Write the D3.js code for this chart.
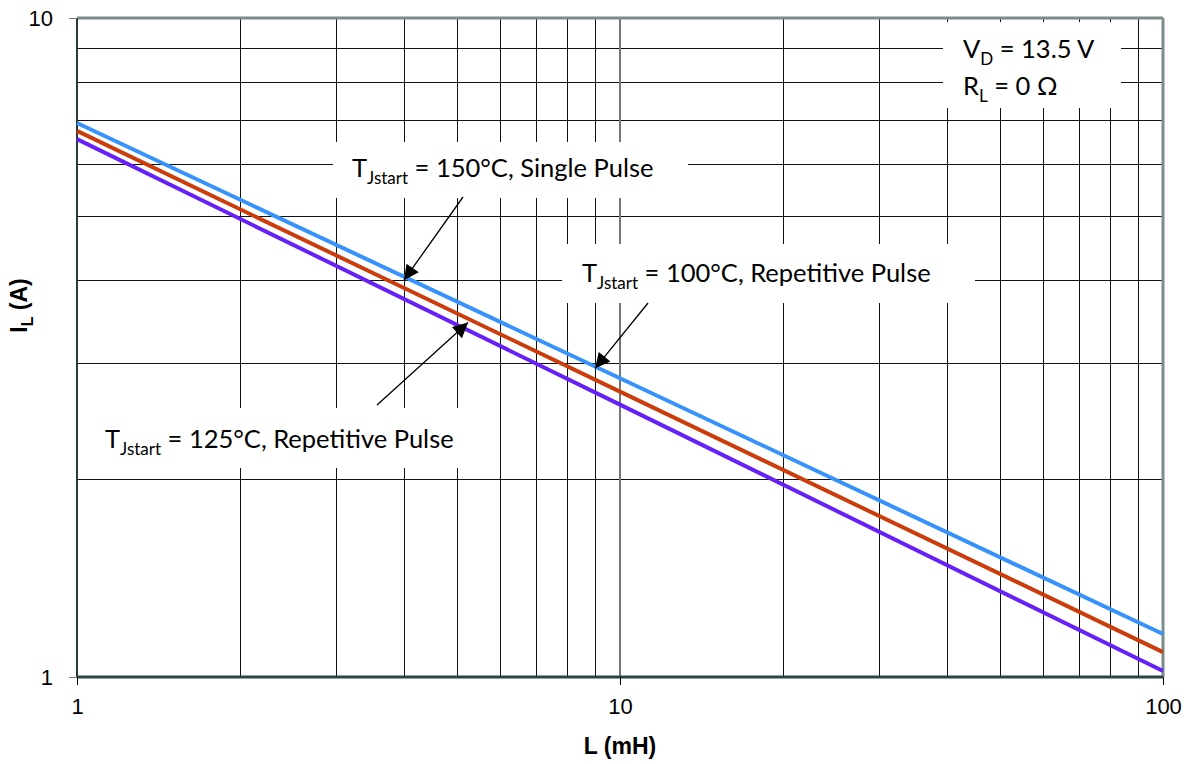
<!DOCTYPE html>
<html>
<head>
<meta charset="utf-8">
<script src="https://cdn.jsdelivr.net/npm/d3@7"></script>
<style>
  body { margin: 0; background: #fff; }
  .note { font-family: Lato, "Open Sans", sans-serif; font-size: 25.5px; fill: #000; }
  .title { font-family: "Liberation Sans", Arial, sans-serif; font-size: 23px; font-weight: bold; }
</style>
</head>
<body>
<div id="chart"></div>
<script>
// values (log-log, I_L vs L)
const inductance = [1, 10, 100];           // mH
const iSingle150 = [6.93, 2.84, 1.162];    // A
const iRep100    = [6.74, 2.71, 1.091];
const iRep125    = [6.55, 2.59, 1.021];

const xTicks = [1, 10, 100];
const yTicks = [1, 10];

const series = [
  {name: "150C single", values: iSingle150, color: "#3793fb"},
  {name: "100C repetitive", values: iRep100, color: "#cc3d0c"},
  {name: "125C repetitive", values: iRep125, color: "#6621f7"}
];

var margin = {top: 18, right: 30, bottom: 87, left: 77},
    w = 1193 - margin.left - margin.right,
    h = 764 - margin.top - margin.bottom;

var svg = d3.select("#chart").append("svg")
    .attr("width", 1193)
    .attr("height", 764)
  .append("g")
    .attr("transform", "translate(" + margin.left + "," + margin.top + ")");

var x = d3.scaleLog().domain([1, 100]).range([0, w]);
var y = d3.scaleLog().domain([1, 10]).range([h, 0]);

// grid
var minorX = [];
for (var d = 1; d <= 10; d *= 10)
  for (var k = 2; k <= 9; k++) minorX.push(d * k);
var minorY = [2, 3, 4, 5, 6, 7, 8, 9];

svg.append("g").selectAll("line").data(minorX).enter().append("line")
   .attr("x1", function(d){ return Math.round(x(d)) + 0.5; })
   .attr("x2", function(d){ return Math.round(x(d)) + 0.5; })
   .attr("y1", 0).attr("y2", h)
   .attr("stroke", "#111").attr("stroke-width", 1);
svg.append("g").selectAll("line").data(minorY).enter().append("line")
   .attr("y1", function(d){ return Math.round(y(d)) + 0.5; })
   .attr("y2", function(d){ return Math.round(y(d)) + 0.5; })
   .attr("x1", 0).attr("x2", w)
   .attr("stroke", "#111").attr("stroke-width", 1);
svg.append("line").attr("x1", x(10)).attr("x2", x(10)).attr("y1", 0).attr("y2", h)
   .attr("stroke", "#777").attr("stroke-width", 2);

// white boxes behind the notes (grid hidden there)
var boxes = [
  {x0: 333, x1: 688, y0: 142, y1: 198},
  {x0: 562, x1: 975, y0: 244, y1: 303},
  {x0: 79, x1: 480, y0: 408, y1: 468},
  {x0: 943, x1: 1121, y0: 22, y1: 108}
];
svg.append("g").selectAll("rect").data(boxes).enter().append("rect")
   .attr("x", function(b){ return b.x0 - margin.left; })
   .attr("y", function(b){ return b.y0 - margin.top; })
   .attr("width", function(b){ return b.x1 - b.x0; })
   .attr("height", function(b){ return b.y1 - b.y0; })
   .attr("fill", "#fff");

// frame
svg.append("line").attr("x1", 0).attr("x2", w).attr("y1", 0).attr("y2", 0)
   .attr("stroke", "#7a8c8c").attr("stroke-width", 3);
svg.append("line").attr("x1", w).attr("x2", w).attr("y1", 0).attr("y2", h)
   .attr("stroke", "#7a8c8c").attr("stroke-width", 3);
svg.append("line").attr("x1", 0).attr("x2", 0).attr("y1", 0).attr("y2", h)
   .attr("stroke", "#2a3a3a").attr("stroke-width", 2);

// curves
var line = d3.line()
    .x(function(d){ return x(d[0]); })
    .y(function(d){ return y(d[1]); });

series.forEach(function(s) {
  svg.append("path")
     .datum(inductance.map(function(L, i){ return [L, s.values[i]]; }))
     .attr("d", line)
     .attr("fill", "none")
     .attr("stroke", s.color)
     .attr("stroke-width", 4);
});

svg.append("line").attr("x1", 0).attr("x2", w).attr("y1", h).attr("y2", h)
   .attr("stroke", "#2f4444").attr("stroke-width", 3);

// axes
var xAxis = d3.axisBottom(x).tickValues(xTicks).tickFormat(d3.format("d"))
    .tickSize(8).tickPadding(13);
var gX = svg.append("g").attr("transform", "translate(0," + h + ")").call(xAxis);
gX.select(".domain").remove();
gX.selectAll(".tick line").attr("stroke", "#000");

var yAxis = d3.axisLeft(y).tickValues(yTicks).tickFormat(d3.format("d"))
    .tickSize(8).tickPadding(16);
var gY = svg.append("g").call(yAxis);
gY.select(".domain").remove();
gY.selectAll(".tick line").attr("stroke", "#777");

svg.selectAll(".tick text")
   .style("font-family", "'Liberation Sans', Arial, sans-serif")
   .style("font-size", "22px")
   .attr("fill", "#000");

svg.append("text").attr("class", "title")
   .attr("x", w / 2).attr("y", h + 77)
   .attr("text-anchor", "middle").text("L (mH)");
svg.append("text").attr("class", "title")
   .attr("transform", "translate(-50," + (h / 2 - 42) + ") rotate(-90)")
   .attr("text-anchor", "middle")
   .call(function(t) {
     t.append("tspan").text("I");
     t.append("tspan").attr("font-size", "16px").attr("dy", 6).text("L");
     t.append("tspan").attr("dy", -6).text(" (A)");
   });

// notes
var notes = [
  {x: 352, y: 177, main: "T", sub: "Jstart", rest: " = 150°C, Single Pulse"},
  {x: 582, y: 282, main: "T", sub: "Jstart", rest: " = 100°C, Repetitive Pulse"},
  {x: 105, y: 448, main: "T", sub: "Jstart", rest: " = 125°C, Repetitive Pulse"},
  {x: 963, y: 58, main: "V", sub: "D", rest: " = 13.5 V"},
  {x: 963, y: 95, main: "R", sub: "L", rest: " = 0 Ω"}
];
notes.forEach(function(n) {
  var t = svg.append("text").attr("class", "note")
     .attr("x", n.x - margin.left).attr("y", n.y - margin.top);
  t.append("tspan").text(n.main);
  t.append("tspan").attr("font-size", "17px").attr("dy", 7).text(n.sub);
  t.append("tspan").attr("dy", -7).text(n.rest);
});

// arrows: from label to a point on a curve (tip in data coords)
svg.append("defs").append("marker")
   .attr("id", "head").attr("viewBox", "0 0 10 10")
   .attr("refX", 10).attr("refY", 5)
   .attr("markerWidth", 17).attr("markerHeight", 15)
   .attr("markerUnits", "userSpaceOnUse")
   .attr("orient", "auto")
  .append("path").attr("d", "M0,0 L10,5 L0,10 Z").attr("fill", "#000");

var arrows = [
  {fx: 463, fy: 197, L: 4, I: 4.0},
  {fx: 648, fy: 303, L: 9, I: 2.94},
  {fx: 377, fy: 405, L: 5.25, I: 3.45}
];
svg.append("g").selectAll("line").data(arrows).enter().append("line")
   .attr("x1", function(a){ return a.fx - margin.left; })
   .attr("y1", function(a){ return a.fy - margin.top; })
   .attr("x2", function(a){ return x(a.L); })
   .attr("y2", function(a){ return y(a.I); })
   .attr("stroke", "#000").attr("stroke-width", 1.3)
   .attr("marker-end", "url(#head)");
</script>
</body>
</html>
